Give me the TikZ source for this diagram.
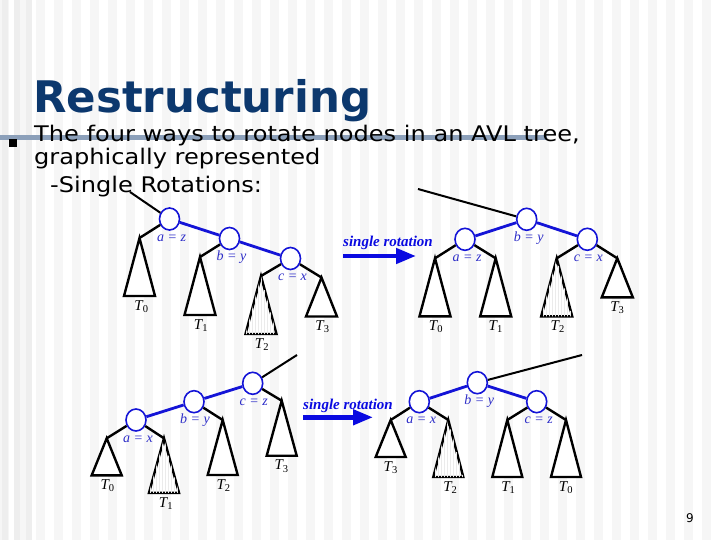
\documentclass[tikz,border=0pt]{standalone}
\usepackage{fontspec}
\setmainfont{DejaVu Sans}
\newfontfamily\bodyfont[FakeStretch=1.12]{DejaVu Sans}
\newfontfamily\treefont{Liberation Serif}
\usetikzlibrary{positioning,arrows.meta,shapes.geometric,patterns}
\definecolor{TitleNavy}{RGB}{12,56,110}
\definecolor{RuleGrey}{RGB}{140,160,186}
\definecolor{TreeBlue}{RGB}{20,20,215}
\definecolor{LabelBlue}{RGB}{45,45,200}
\definecolor{ArrowBlue}{RGB}{10,10,225}
\definecolor{StripeGrey}{RGB}{238,238,238}
\tikzset{
  treenode/.style={ellipse,draw=TreeBlue,line width=1.6pt,fill=white,
    minimum width=20pt,minimum height=22pt,inner sep=0pt},
  blueedge/.style={draw=TreeBlue,line width=2.8pt},
  blackedge/.style={draw=black,line width=2.4pt},
  subtree/.style={isosceles triangle,isosceles triangle stretches,
    shape border rotate=90,draw,line width=2.4pt,fill=white,
    inner sep=0pt,outer sep=0pt,minimum width=31pt,anchor=apex},
  tallsub/.style={subtree,minimum height=58pt},
  shortsub/.style={subtree,minimum height=39pt},
  hatched/.style={postaction={pattern=vertical lines,pattern color=gray!16}},
  nodelabel/.style={font=\treefont\itshape\fontsize{14}{14}\selectfont,
    text=LabelBlue,inner sep=0pt,text height=8pt,text depth=2pt},
  treelabel/.style={font=\treefont\itshape\fontsize{15}{15}\selectfont,
    inner sep=0pt,text height=11pt,text depth=4pt},
  rotarrow/.style={-{Triangle[length=20pt,width=15pt]},line width=4.5pt,draw=ArrowBlue},
  rotlabel/.style={font=\treefont\bfseries\itshape\fontsize{15}{15}\selectfont,
    text=ArrowBlue,inner sep=0pt},
  bodytext/.style={anchor=base west,inner sep=0pt,font=\bodyfont\fontsize{21.5}{24}\selectfont},
  pointer/.style={draw=black,line width=2pt}
}
\newcommand\Tsub[1]{T\textsubscript{\upshape#1}}

\begin{document}
\begin{tikzpicture}[x=1pt,y=-1pt]
  \useasboundingbox (0,0) rectangle (720,540);
  % slide background
  \fill[white] (0,0) rectangle (720,540);
  \foreach \x in {0,18,...,710}
    \fill[StripeGrey!55] (\x,0) rectangle ++(9,540);
  \foreach \x in {2,14,26}
    \fill[StripeGrey] (\x,0) rectangle ++(6,540);
  \draw[RuleGrey,line width=5pt] (0,137.5) -- (547,137.5);

  % title and text
  \node[anchor=base west,inner sep=0pt,text=TitleNavy,
    font=\bfseries\fontsize{43.5}{43.5}\selectfont] (title) at (33,113) {Restructuring};
  \node[fill=black,minimum size=7.5pt,inner sep=0pt] (bullet) at (13,143) {};
  \node[bodytext] (line1) at (34,142) {The four ways to rotate nodes in an AVL tree,};
  \node[bodytext] (line2) at (34,165) {graphically represented};
  \node[bodytext] (line3) at (50,193) {-Single Rotations:};
  \node[font=\fontsize{12}{12}\selectfont] (pagenum) at (690,518) {9};

  % tree 1: before the rotation
  \coordinate (from1) at (130,192);
  \node[treenode] (a1) at (169.5,219) {};
  \node[treenode] (b1) at (229.5,238.5) {};
  \node[treenode] (c1) at (290.5,258.5) {};
  \node[tallsub] (t10) at (139.5,238) {};
  \node[tallsub] (t11) at (200,257) {};
  \node[tallsub,hatched] (t12) at (261,276) {};
  \node[shortsub] (t13) at (321.5,277.5) {};
  \draw[pointer] (from1) -- (a1);
  \draw[blueedge] (a1) -- (b1);
  \draw[blueedge] (b1) -- (c1);
  \draw[blackedge] (a1) -- (t10.apex);
  \draw[blackedge] (b1) -- (t11.apex);
  \draw[blackedge] (c1) -- (t12.apex);
  \draw[blackedge] (c1) -- (t13.apex);
  \node[nodelabel,below=2pt of a1,xshift=2pt] (la1) {a = z};
  \node[nodelabel,below=2pt of b1,xshift=2pt] (lb1) {b = y};
  \node[nodelabel,below=2pt of c1,xshift=2pt] (lc1) {c = x};
  \node[treelabel,below=3pt of t10,xshift=2pt] (n10) {\Tsub{0}};
  \node[treelabel,below=3pt of t11,xshift=1pt] (n11) {\Tsub{1}};
  \node[treelabel,below=3pt of t12,xshift=1pt] (n12) {\Tsub{2}};
  \node[treelabel,below=3pt of t13,xshift=1pt] (n13) {\Tsub{3}};

  % first single rotation arrow
  \coordinate (arr1s) at (343,256);
  \coordinate (arr1e) at (416,256);
  \draw[rotarrow] (arr1s) -- (arr1e);
  \node[rotlabel,anchor=base west] (rot1) at (343,247) {single rotation};

  % tree 2: after the rotation
  \coordinate (from2) at (418,189);
  \node[treenode] (b2) at (526.7,219.3) {};
  \node[treenode] (a2) at (465,239.3) {};
  \node[treenode] (c2) at (587.3,239.3) {};
  \node[tallsub] (t20) at (435,258.3) {};
  \node[tallsub] (t21) at (495.7,258.3) {};
  \node[tallsub,hatched] (t22) at (556.7,258.3) {};
  \node[shortsub] (t23) at (617.3,258.3) {};
  \draw[pointer] (from2) -- (b2);
  \draw[blueedge] (a2) -- (b2);
  \draw[blueedge] (b2) -- (c2);
  \draw[blackedge] (a2) -- (t20.apex);
  \draw[blackedge] (a2) -- (t21.apex);
  \draw[blackedge] (c2) -- (t22.apex);
  \draw[blackedge] (c2) -- (t23.apex);
  \node[nodelabel,below=2pt of b2,xshift=2pt] (lb2) {b = y};
  \node[nodelabel,below=2pt of a2,xshift=2pt] (la2) {a = z};
  \node[nodelabel,below=2pt of c2,xshift=1pt] (lc2) {c = x};
  \node[treelabel,below=3pt of t20,xshift=1pt] (n20) {\Tsub{0}};
  \node[treelabel,below=3pt of t21] (n21) {\Tsub{1}};
  \node[treelabel,below=3pt of t22,xshift=1pt] (n22) {\Tsub{2}};
  \node[treelabel,below=3pt of t23] (n23) {\Tsub{3}};

  % tree 3: mirrored case, before
  \coordinate (from3) at (297,355);
  \node[treenode] (c3) at (252.7,383.3) {};
  \node[treenode] (b3) at (194,401.7) {};
  \node[treenode] (a3) at (136,420) {};
  \node[shortsub,minimum width=30pt,minimum height=37pt] (t30) at (106.7,438.3) {};
  \node[tallsub,minimum width=30pt,minimum height=54.5pt,hatched] (t31) at (164,438.3) {};
  \node[tallsub,minimum width=30pt,minimum height=55pt] (t32) at (222.7,420) {};
  \node[tallsub,minimum width=30pt,minimum height=55pt] (t33) at (281.7,400.7) {};
  \draw[pointer] (from3) -- (c3);
  \draw[blueedge] (a3) -- (b3);
  \draw[blueedge] (b3) -- (c3);
  \draw[blackedge] (a3) -- (t30.apex);
  \draw[blackedge] (a3) -- (t31.apex);
  \draw[blackedge] (b3) -- (t32.apex);
  \draw[blackedge] (c3) -- (t33.apex);
  \node[nodelabel,below=2pt of c3,xshift=1pt] (lc3) {c = z};
  \node[nodelabel,below=2pt of b3,xshift=1pt] (lb3) {b = y};
  \node[nodelabel,below=2pt of a3,xshift=2pt] (la3) {a = x};
  \node[treelabel,below=3pt of t30,xshift=1pt] (n30) {\Tsub{0}};
  \node[treelabel,below=3pt of t31,xshift=2pt] (n31) {\Tsub{1}};
  \node[treelabel,below=3pt of t32,xshift=1pt] (n32) {\Tsub{2}};
  \node[treelabel,below=3pt of t33] (n33) {\Tsub{3}};

  % second single rotation arrow
  \coordinate (arr2s) at (303,417.3);
  \coordinate (arr2e) at (373,417.3);
  \draw[rotarrow] (arr2s) -- (arr2e);
  \node[rotlabel,anchor=base west] (rot2) at (303,409) {single rotation};

  % tree 4: mirrored case, after
  \coordinate (from4) at (582,355);
  \node[treenode] (b4) at (477.3,382.7) {};
  \node[treenode] (a4) at (419.3,401.7) {};
  \node[treenode] (c4) at (536.7,401.7) {};
  \node[shortsub,minimum width=30pt,minimum height=37pt] (t43) at (390.7,420) {};
  \node[tallsub,minimum width=30pt,minimum height=57pt,hatched] (t42) at (448.3,420) {};
  \node[tallsub,minimum width=30pt,minimum height=57pt] (t41) at (507.3,420) {};
  \node[tallsub,minimum width=30pt,minimum height=57pt] (t40) at (566,420) {};
  \draw[pointer] (b4) -- (from4);
  \draw[blueedge] (a4) -- (b4);
  \draw[blueedge] (b4) -- (c4);
  \draw[blackedge] (a4) -- (t43.apex);
  \draw[blackedge] (a4) -- (t42.apex);
  \draw[blackedge] (c4) -- (t41.apex);
  \draw[blackedge] (c4) -- (t40.apex);
  \node[nodelabel,below=2pt of b4,xshift=2pt] (lb4) {b = y};
  \node[nodelabel,below=2pt of a4,xshift=2pt] (la4) {a = x};
  \node[nodelabel,below=2pt of c4,xshift=2pt] (lc4) {c = z};
  \node[treelabel,below=3pt of t43] (n43) {\Tsub{3}};
  \node[treelabel,below=3pt of t42,xshift=2pt] (n42) {\Tsub{2}};
  \node[treelabel,below=3pt of t41,xshift=1pt] (n41) {\Tsub{1}};
  \node[treelabel,below=3pt of t40] (n40) {\Tsub{0}};
\end{tikzpicture}
\end{document}
